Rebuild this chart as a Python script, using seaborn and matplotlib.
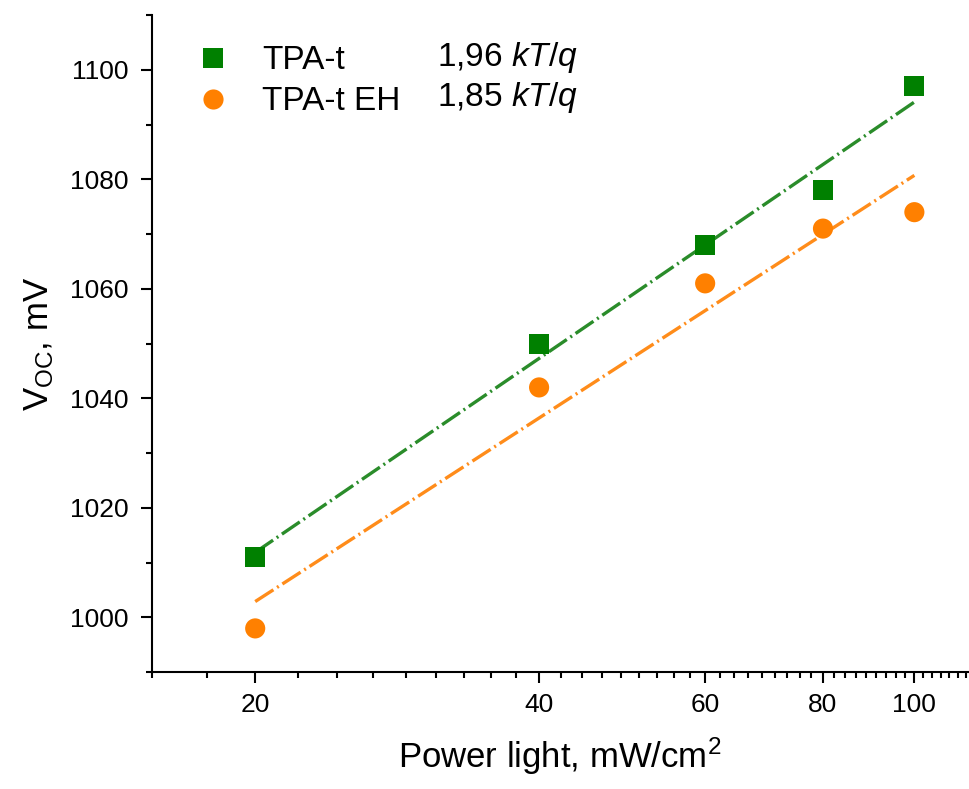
import numpy as np
import pandas as pd
import matplotlib
matplotlib.use("Agg")
import matplotlib.pyplot as plt
from matplotlib.ticker import FixedLocator, MultipleLocator, NullFormatter
import seaborn as sns

# --- data ---
power = [20, 40, 60, 80, 100]                 # mW/cm2
voc_tpa = [1011, 1050, 1068, 1078, 1097]      # mV
voc_tpa_eh = [998, 1042, 1061, 1071, 1074]    # mV
series_names = ["TPA-t", "TPA-t EH"]
ideality = ["1,96", "1,85"]

marker_colors = {"TPA-t": "#008000", "TPA-t EH": "#FF8000"}
fit_colors = {"TPA-t": "#2A8C2A", "TPA-t EH": "#FF8C1A"}

df = pd.DataFrame({
    "power": power * 2,
    "voc": voc_tpa + voc_tpa_eh,
    "sample": [series_names[0]] * len(power) + [series_names[1]] * len(power),
})

sns.set_style("ticks")
plt.rcParams["font.family"] = ["Liberation Sans", "DejaVu Sans"]
plt.rcParams["mathtext.fontset"] = "custom"
plt.rcParams["mathtext.rm"] = "Liberation Sans"
plt.rcParams["mathtext.it"] = "Liberation Sans:italic"
for key in ["text.color", "axes.labelcolor", "xtick.color", "ytick.color",
            "axes.edgecolor"]:
    plt.rcParams[key] = "black"

fig = plt.figure(figsize=(9.69, 7.89), dpi=100)
ax = fig.add_axes([0.157, 0.148, 0.842, 0.833])

# logarithmic fits V = a + b*ln(P)
for name in series_names:
    sub = df[df["sample"] == name]
    b, a = np.polyfit(np.log(sub["power"]), sub["voc"], 1)
    xs = np.array([min(power), max(power)])
    ax.plot(xs, a + b * np.log(xs), color=fit_colors[name], lw=2.4,
            dashes=(6.5, 1.3, 0.6, 1.3), zorder=1)

sns.scatterplot(data=df, x="power", y="voc", hue="sample", style="sample",
                palette=marker_colors, markers={"TPA-t": "s", "TPA-t EH": "o"},
                s=210, linewidth=0, ax=ax, zorder=3)

ax.set_xscale("log")
ax.set_xlim(15.55, 114)
ax.set_ylim(990, 1110)

ax.xaxis.set_major_locator(FixedLocator(power))
ax.set_xticklabels([str(p) for p in power])
minor_x = [20 + k * 20 / 9 for k in range(-2, 43) if k % 9 != 0]
ax.xaxis.set_minor_locator(FixedLocator(minor_x))
ax.xaxis.set_minor_formatter(NullFormatter())
ax.yaxis.set_major_locator(MultipleLocator(20))
ax.yaxis.set_minor_locator(MultipleLocator(10))

ax.tick_params(which="major", direction="out", length=8, width=1.5,
               labelsize=19)
ax.tick_params(which="minor", direction="out", length=4, width=1.5)
ax.tick_params(axis="x", which="major", pad=7)
ax.tick_params(axis="y", which="major", pad=9)

sns.despine(ax=ax)
for side in ["left", "bottom"]:
    ax.spines[side].set_linewidth(1.5)

ax.set_xlabel("Power light, mW/cm$^2$", fontsize=25, labelpad=13)
ax.set_ylabel("V$_{\\mathrm{OC}}$, mV", fontsize=25, labelpad=10)

leg = ax.legend(loc="upper left", bbox_to_anchor=(0.038, 0.974), frameon=False,
                fontsize=24, handlelength=1.0, handletextpad=0.97,
                labelspacing=0.3, borderaxespad=0)
for h in leg.legend_handles:
    h.set_markersize(14.5)

for i, val in enumerate(ideality):
    ax.text(0.349, 0.936 - i * 0.062, val + " $\\it{kT/q}$", transform=ax.transAxes,
            fontsize=24, va="center", ha="left")

plt.savefig("out.png", dpi=100)
